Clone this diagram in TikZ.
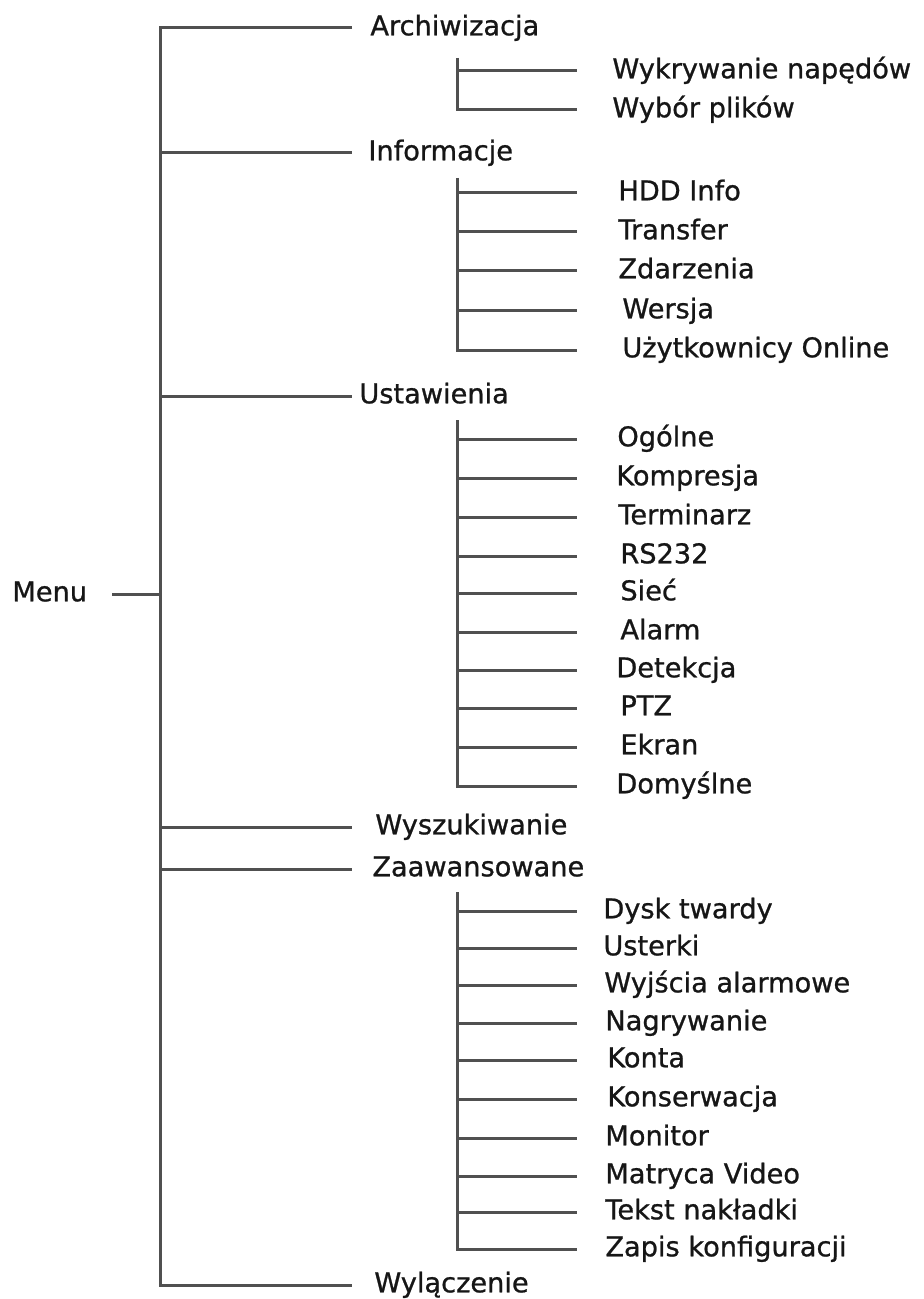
\documentclass[tikz,border=0pt]{standalone}
\usepackage{fontspec}
\setmainfont{DejaVu Sans}
\newfontfamily\treefont{DejaVu Sans}[FakeBold=0.9]
\usetikzlibrary{positioning}
\definecolor{TreeGray}{HTML}{505050}
\definecolor{TreeText}{HTML}{161616}

\begin{document}
\begin{tikzpicture}[x=0.5pt, y=-0.5pt,
    item/.style={anchor=west, inner sep=0pt, text height=0.73em, text depth=0pt, text=TreeText, font=\treefont\fontsize{13.6}{16}\selectfont},
    branch/.style={draw=TreeGray, line width=1.5pt}]
  \useasboundingbox (0,0) rectangle (923,1299);
  % trunk columns
  \coordinate (t0) at (160,0); \coordinate (e0) at (352,0);
  \coordinate (t1) at (457,0); \coordinate (e1) at (577,0);
  % top level
  \node[item] (menu) at (12,594) {Menu};
  \node[item] (arch) at (370,28) {Archiwizacja};
  \node[item] (info) at (368,153) {Informacje};
  \node[item] (ustaw) at (359,396) {Ustawienia};
  \node[item] (szuk) at (375,827) {Wyszukiwanie};
  \node[item] (zaaw) at (372,869) {Zaawansowane};
  \node[item] (wyl) at (374,1285) {Wylączenie};
  % Archiwizacja
  \node[item] (wykr) at (612,71) {Wykrywanie napędów};
  \node[item] (wyb) at (612,110) {Wybór plików};
  % Informacje
  \node[item] (hdd) at (618,193) {HDD Info};
  \node[item] (trans) at (618,232) {Transfer};
  \node[item] (zdarz) at (618,271) {Zdarzenia};
  \node[item] (wers) at (622,311) {Wersja};
  \node[item] (uzyt) at (622,350) {Użytkownicy Online};
  % Ustawienia
  \node[item] (ogol) at (617,439) {Ogólne};
  \node[item] (kompr) at (616,478) {Kompresja};
  \node[item] (term) at (618,517) {Terminarz};
  \node[item] (rs) at (620,556) {RS232};
  \node[item] (siec) at (620,593) {Sieć};
  \node[item] (alarm) at (620,632) {Alarm};
  \node[item] (detek) at (616,670) {Detekcja};
  \node[item] (ptz) at (620,708) {PTZ};
  \node[item] (ekran) at (620,747) {Ekran};
  \node[item] (domys) at (616,786) {Domyślne};
  % Zaawansowane
  \node[item] (dysk) at (603,911) {Dysk twardy};
  \node[item] (uster) at (603,948) {Usterki};
  \node[item] (wyjsc) at (604,985) {Wyjścia alarmowe};
  \node[item] (nagr) at (605,1023) {Nagrywanie};
  \node[item] (konta) at (607,1060) {Konta};
  \node[item] (konser) at (607,1099) {Konserwacja};
  \node[item] (monit) at (605,1138) {Monitor};
  \node[item] (matr) at (605,1176) {Matryca Video};
  \node[item] (tekst) at (605,1212) {Tekst nakładki};
  \node[item] (zapis) at (605,1249) {Zapis konfiguracji};
  % tops of the sub trunks
  \coordinate (s1) at (457,58); \coordinate (s2) at (457,178);
  \coordinate (s3) at (457,420); \coordinate (s4) at (457,892);
  % main trunk
  \draw[branch] ([xshift=12.5pt]menu.east) -- (t0 |- menu.west);
  \draw[branch] (e0 |- arch.west) -- (t0 |- arch.west) -- (t0 |- wyl.west) -- (e0 |- wyl.west);
  \foreach \n in {info,ustaw,szuk,zaaw} \draw[branch] (t0 |- \n.west) -- (e0 |- \n.west);
  % sub trunks
  \draw[branch] (s1) -- (t1 |- wyb.west) -- (e1 |- wyb.west);
  \draw[branch] (t1 |- wykr.west) -- (e1 |- wykr.west);
  \draw[branch] (s2) -- (t1 |- uzyt.west) -- (e1 |- uzyt.west);
  \foreach \n in {hdd,trans,zdarz,wers} \draw[branch] (t1 |- \n.west) -- (e1 |- \n.west);
  \draw[branch] (s3) -- (t1 |- domys.west) -- (e1 |- domys.west);
  \foreach \n in {ogol,kompr,term,rs,siec,alarm,detek,ptz,ekran} \draw[branch] (t1 |- \n.west) -- (e1 |- \n.west);
  \draw[branch] (s4) -- (t1 |- zapis.west) -- (e1 |- zapis.west);
  \foreach \n in {dysk,uster,wyjsc,nagr,konta,konser,monit,matr,tekst} \draw[branch] (t1 |- \n.west) -- (e1 |- \n.west);
\end{tikzpicture}
\end{document}
